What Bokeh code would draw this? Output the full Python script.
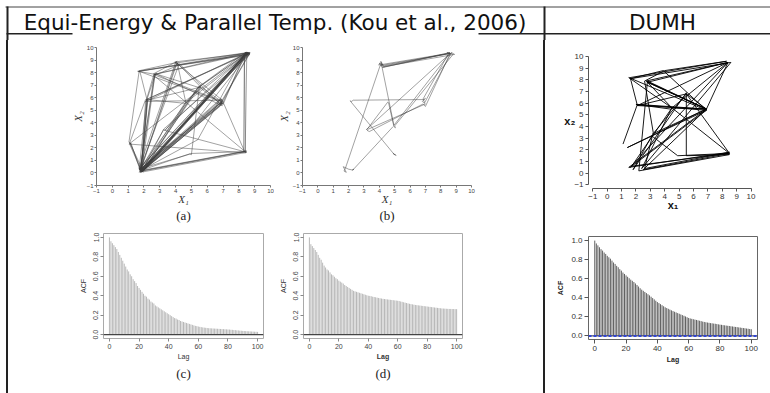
from bokeh.plotting import figure
from bokeh.layouts import row, column
from bokeh.models import Spacer, Range1d, FixedTicker, Span, Title, NumeralTickFormatter
from bokeh.embed import file_html
from bokeh.resources import INLINE
from bokeh.core.properties import value

# ---------------- data ----------------
header_left = "Equi-Energy & Parallel Temp. (Kou et al., 2006)"
header_right = "DUMH"
panel_labels = ["(a)", "(b)", "(c)", "(d)"]

grid_ticks = [-1, 0, 1, 2, 3, 4, 5, 6, 7, 8, 9, 10]
lag_ticks = [0, 20, 40, 60, 80, 100]
acf_ticks = [0.0, 0.2, 0.4, 0.6, 0.8, 1.0]

# (a) equi-energy sampler path (x1, x2)
xa = [1.85, 1.7, 1.95, 1.8, 8.5, 8.3, 8.7, 6.9, 6.85, 1.9, 1.75, 2.7, 2.6, 2.15, 2.25, 1.8, 2.0, 8.6, 8.4,
      5.5, 5.6, 4.6, 1.85, 1.7, 4.0, 4.2, 8.5, 8.7, 1.9, 1.8, 2.2, 2.1, 1.1, 1.2, 1.75, 1.9, 6.85, 6.95,
      8.45, 8.6, 1.65, 2.75, 2.6, 4.1, 3.95, 8.55, 8.35, 8.4, 8.5, 2.0, 1.8, 3.25, 3.35, 5.45, 8.5, 8.7,
      6.9, 6.8, 1.85, 1.7, 2.15, 2.7, 2.8, 8.4, 8.6, 1.9, 1.75, 1.15, 1.05, 1.7, 4.05, 4.3, 6.95, 8.35,
      8.45, 1.1, 1.8, 1.95, 8.5, 8.65, 4.6, 2.2, 2.1, 1.85, 1.75, 2.65, 8.55, 8.4, 1.9, 2.05, 6.9, 6.85,
      5.55, 4.15, 3.95, 8.6, 8.5, 1.8, 1.7, 4.9, 5.0, 5.5, 8.45, 1.85, 1.95, 5.0, 4.95, 8.6, 8.4, 5.4,
      1.8, 1.7, 8.5, 8.7, 1.6, 1.75, 2.2, 1.9, 1.8, 6.9, 7.0, 8.35, 8.3, 8.45, 1.85,
      2.7, 2.8, 2.6, 8.4, 1.9, 1.75, 5.5, 5.6, 2.2, 2.1, 6.9, 6.8, 4.2, 4.0, 1.8, 1.95, 8.45, 8.6, 8.4,
      8.7, 3.25, 1.85, 1.7, 1.95, 1.8, 6.9, 6.95, 2.75, 5.5, 1.9, 1.8, 8.55, 8.4, 8.6, 2.15, 8.6,
      1.75, 1.9, 1.1, 1.2, 1.05, 8.5, 8.4, 8.5, 2.0, 4.65, 4.1, 1.8, 1.85, 6.85, 1.7, 8.65, 8.5, 8.4,
      1.9, 5.45, 6.9, 6.85, 1.75, 4.2, 2.7, 6.95, 1.85, 1.95, 1.7, 8.5, 2.2, 1.8, 4.95, 8.35, 3.3,
      8.45, 1.9, 1.8, 6.9, 7.0, 1.85]
ya = [0.2, 0.35, 0.05, 0.45, 9.55, 9.45, 9.6, 5.7, 5.4, 0.15, 0.3, 7.9, 7.75, 5.8, 5.9, 0.1, 0.25, 9.5, 9.6,
      6.9, 6.8, 5.6, 0.2, 0.4, 8.8, 8.6, 9.45, 9.6, 0.3, 0.05, 5.75, 5.85, 2.4, 2.3, 0.25, 0.4, 5.9, 5.5,
      9.5, 9.4, 8.1, 7.85, 7.9, 8.9, 8.75, 9.6, 9.45, 1.7, 1.65, 0.1, 0.3, 3.45, 3.4, 6.85, 9.5, 9.55,
      5.6, 5.3, 0.15, 0.3, 5.7, 7.8, 7.9, 9.55, 9.6, 0.2, 0.45, 2.35, 2.45, 8.15, 8.8, 8.5, 5.8, 1.75,
      1.6, 2.3, 0.25, 0.1, 9.45, 9.55, 5.55, 5.85, 5.75, 0.35, 0.1, 7.85, 9.5, 9.4, 0.2, 0.3, 5.5, 5.75,
      6.9, 8.7, 8.85, 9.55, 9.65, 0.15, 0.3, 1.5, 1.45, 6.85, 9.5, 0.05, 0.25, 3.7, 3.6, 9.45, 9.55, 2.65,
      0.2, 0.35, 9.6, 9.5, 8.1, 8.05, 5.8, 0.1, 0.3, 5.65, 5.45, 9.45, 1.7, 1.75, 0.2,
      7.85, 7.95, 7.8, 1.7, 0.15, 0.35, 6.9, 6.85, 5.8, 5.7, 5.8, 5.5, 8.75, 8.6, 0.3, 0.2, 9.55, 9.5, 9.6,
      9.45, 3.5, 0.1, 0.25, 0.4, 0.05, 5.6, 5.35, 7.9, 6.8, 0.35, 0.05, 9.45, 9.6, 9.5, 5.85, 9.55,
      0.2, 0.3, 2.4, 2.35, 2.3, 9.5, 1.65, 1.75, 0.2, 5.6, 8.8, 0.25, 0.4, 5.7, 8.1, 9.6, 9.5, 9.4,
      0.1, 6.9, 5.45, 5.6, 0.3, 8.6, 7.8, 5.7, 0.15, 0.3, 0.05, 9.55, 5.75, 0.2, 1.55, 1.7, 3.4,
      9.5, 0.25, 0.1, 5.9, 5.6, 0.3]

# (b) parallel tempering path
xb = [5.0, 4.9, 5.1, 4.95, 2.1, 2.2, 2.3, 6.9, 7.0, 6.8, 7.0, 3.3, 3.2, 3.35, 6.85, 7.0, 8.6, 8.4, 8.8,
      5.0, 5.05, 4.95, 4.6, 4.55, 3.25, 3.15, 8.5, 8.7, 4.15, 4.0, 4.25, 4.1, 4.95, 8.6, 4.3, 4.1, 3.95,
      8.35, 8.6, 4.2, 4.4, 8.9, 8.7, 6.95, 6.85, 8.5, 4.05, 1.8, 1.7, 1.85, 1.65, 2.0, 2.2, 2.35, 2.25,
      4.9]
yb = [1.45, 1.55, 1.4, 1.5, 5.75, 5.7, 5.8, 5.85, 5.95, 5.7, 5.5, 3.5, 3.4, 3.3, 5.5, 5.3, 9.5, 9.6, 9.45,
      3.75, 3.6, 3.7, 5.6, 5.65, 3.55, 3.45, 9.4, 9.55, 8.5, 8.75, 8.6, 8.9, 3.8, 9.55, 8.45, 8.8, 8.6,
      9.5, 9.6, 8.4, 8.5, 9.45, 9.6, 5.6, 5.9, 9.5, 8.55, 0.4, 0.15, 0.05, 0.5, 0.3, 0.25, 0.3, 0.2,
      3.7]

# DUMH path
xd = [1.1, 2.1, 6.9, 2.7, 8.4, 1.6, 6.9, 1.5, 4.5, 8.5, 2.5, 6.9, 5.5, 2.1, 8.4, 2.8, 6.9, 1.4, 6.9, 3.9,
      1.6, 8.6, 2.4, 4.5, 6.9, 3.2, 5.5, 8.5, 4.9, 3.1, 1.8, 5.5, 5.5, 8.5, 2.2, 2.8, 6.9, 8.4, 4.4, 2.0,
      6.8, 1.5, 8.5, 2.6, 3.2, 2.6, 4.0, 8.3, 1.6, 2.1, 6.9, 2.8, 4.5, 1.7, 8.4]
yd = [2.5, 5.9, 5.5, 7.9, 9.5, 0.5, 5.4, 8.2, 5.6, 1.7, 0.3, 5.5, 6.8, 5.8, 9.5, 7.8, 5.5, 2.2, 5.4, 8.8,
      8.1, 9.5, 0.4, 5.6, 5.5, 3.4, 6.8, 1.7, 1.5, 3.2, 0.3, 6.9, 1.5, 1.6, 0.2, 7.9, 5.5, 9.5, 5.5, 5.9,
      5.4, 0.5, 1.8, 0.4, 3.5, 7.9, 8.8, 9.6, 8.2, 5.8, 5.5, 7.8, 5.6, 0.6, 1.7]

lags = list(range(101))
acf_c = [1.00, 0.96, 0.94, 0.92, 0.90, 0.88, 0.85, 0.82, 0.79, 0.76, 0.73,
         0.70, 0.67, 0.65, 0.62, 0.60, 0.57, 0.55, 0.53, 0.50, 0.48,
         0.46, 0.44, 0.42, 0.40, 0.39, 0.37, 0.36, 0.34, 0.33, 0.32,
         0.30, 0.29, 0.28, 0.27, 0.26, 0.25, 0.24, 0.23, 0.22, 0.21,
         0.20, 0.19, 0.18, 0.17, 0.165, 0.155, 0.15, 0.14, 0.135, 0.13,
         0.125, 0.12, 0.115, 0.11, 0.105, 0.10, 0.095, 0.09, 0.087, 0.083,
         0.08, 0.077, 0.074, 0.072, 0.07, 0.068, 0.066, 0.065, 0.064, 0.063,
         0.062, 0.061, 0.06, 0.059, 0.058, 0.057, 0.056, 0.055, 0.054, 0.053,
         0.052, 0.05, 0.049, 0.047, 0.046, 0.044, 0.043, 0.041, 0.04, 0.038,
         0.037, 0.036, 0.035, 0.034, 0.033, 0.032, 0.031, 0.03, 0.029, 0.028]
acf_d = [1.00, 0.93, 0.91, 0.89, 0.87, 0.85, 0.82, 0.79, 0.77, 0.74, 0.71,
         0.69, 0.67, 0.66, 0.64, 0.62, 0.61, 0.595, 0.58, 0.57, 0.555,
         0.545, 0.535, 0.525, 0.51, 0.50, 0.49, 0.48, 0.47, 0.46, 0.45,
         0.445, 0.44, 0.435, 0.43, 0.425, 0.42, 0.415, 0.41, 0.405, 0.40,
         0.398, 0.395, 0.39, 0.387, 0.384, 0.38, 0.377, 0.374, 0.371, 0.368,
         0.366, 0.364, 0.362, 0.36, 0.358, 0.356, 0.354, 0.352, 0.35, 0.348,
         0.345, 0.341, 0.337, 0.333, 0.329, 0.325, 0.321, 0.317, 0.314, 0.311,
         0.308, 0.305, 0.303, 0.301, 0.299, 0.297, 0.295, 0.293, 0.291, 0.289,
         0.287, 0.285, 0.283, 0.281, 0.279, 0.277, 0.275, 0.273, 0.271, 0.269,
         0.268, 0.267, 0.266, 0.265, 0.264, 0.264, 0.263, 0.263, 0.262, 0.262]
acf_dumh = [1.00, 0.97, 0.95, 0.93, 0.91, 0.895, 0.875, 0.86, 0.84, 0.825, 0.81,
            0.79, 0.77, 0.755, 0.735, 0.72, 0.70, 0.685, 0.665, 0.65, 0.635,
            0.62, 0.605, 0.59, 0.578, 0.565, 0.55, 0.534, 0.518, 0.50, 0.485,
            0.473, 0.461, 0.449, 0.437, 0.425, 0.411, 0.397, 0.383, 0.369, 0.355,
            0.344, 0.333, 0.322, 0.311, 0.30, 0.292, 0.284, 0.276, 0.268, 0.26,
            0.253, 0.246, 0.239, 0.232, 0.225, 0.218, 0.211, 0.204, 0.196, 0.188,
            0.183, 0.179, 0.175, 0.171, 0.167, 0.163, 0.159, 0.155, 0.150, 0.146,
            0.143, 0.140, 0.137, 0.134, 0.132, 0.129, 0.127, 0.124, 0.121, 0.118,
            0.116, 0.113, 0.111, 0.108, 0.106, 0.104, 0.101, 0.099, 0.096, 0.094,
            0.092, 0.089, 0.087, 0.084, 0.082, 0.080, 0.077, 0.075, 0.072, 0.070]
ci_level = 0.0

SANS = "Liberation Sans"
SERIF = "Liberation Serif"


def base(**kw):
    p = figure(output_backend="svg", toolbar_location=None, **kw)
    p.grid.visible = False
    return p


def trace_matlab(xs, ys, label, width, left, right):
    p = base(width=width, height=191, x_range=Range1d(-1, 10), y_range=Range1d(-1, 10),
             min_border_left=left, min_border_right=right, min_border_top=7, min_border_bottom=46)
    p.outline_line_color = None
    p.line(xs, ys, line_color="#3c3c3c", line_width=0.6, line_alpha=0.8)
    for ax in (p.xaxis[0], p.yaxis[0]):
        ax.ticker = FixedTicker(ticks=grid_ticks)
        ax.major_label_overrides = {-1: "\u22121"}
        ax.axis_line_color = "#777"
        ax.major_tick_line_color = "#777"
        ax.major_tick_out = 2
        ax.major_tick_in = 0
        ax.minor_tick_line_color = None
        ax.major_label_text_font = SANS
        ax.major_label_text_font_size = "6px"
        ax.major_label_text_color = "#444"
        ax.major_label_standoff = 1
        ax.axis_label_text_font = SERIF
        ax.axis_label_text_font_style = "italic"
        ax.axis_label_text_font_size = "11px"
        ax.axis_label_text_color = "#333"
        ax.axis_label_standoff = 0
    p.xaxis.axis_label_standoff = -3
    p.xaxis.axis_label = "X\u2081"
    p.yaxis.axis_label = "X\u2082"
    p.add_layout(Title(text=label, align="center", text_font=SERIF, text_font_size="13px",
                       text_font_style="normal", text_color="#222", standoff=-4), "below")
    return p


def acf_r(vals, label, width, left, right, bold_lag=False):
    p = base(width=width, height=162, x_range=Range1d(-4, 104), y_range=Range1d(-0.04, 1.04),
             min_border_left=left, min_border_right=right, min_border_top=2, min_border_bottom=55)
    p.outline_line_color = "#aaaaaa"
    p.segment(x0=lags, y0=[0] * len(lags), x1=lags, y1=vals, line_color="#b8b8b8", line_width=1)
    p.add_layout(Span(location=0, dimension="width", line_color="#444", line_width=1.2))
    p.xaxis.ticker = FixedTicker(ticks=lag_ticks)
    p.yaxis.ticker = FixedTicker(ticks=acf_ticks)
    p.yaxis.formatter = NumeralTickFormatter(format="0.0")
    p.yaxis.major_label_orientation = "vertical"
    for ax in (p.xaxis[0], p.yaxis[0]):
        ax.axis_line_color = None
        ax.major_tick_line_color = "#888"
        ax.major_tick_out = 3
        ax.major_tick_in = 0
        ax.minor_tick_line_color = None
        ax.major_label_text_font = SANS
        ax.major_label_text_font_size = "7px"
        ax.major_label_text_color = "#444"
        ax.major_label_standoff = 2
        ax.axis_label_text_font = SANS
        ax.axis_label_text_font_size = "7px"
        ax.axis_label_text_font_style = "normal"
        ax.axis_label_text_color = "#333"
        ax.axis_label_standoff = 4
    p.xaxis.axis_label_standoff = 1
    p.xaxis.axis_label = "Lag"
    p.yaxis.axis_label = "ACF"
    if bold_lag:
        p.xaxis.axis_label_text_font_style = "bold"
    p.add_layout(Title(text=label, align="center", text_font=SERIF, text_font_size="13px",
                       text_font_style="normal", text_color="#222", standoff=2), "below")
    return p


# ---------------- header ----------------
HH = 40
hdr = figure(width=770, height=HH, x_range=Range1d(0, 770), y_range=Range1d(HH, 0), min_border=0,
             x_axis_location=None, y_axis_location=None, output_backend="svg", toolbar_location=None)
hdr.grid.visible = False
hdr.outline_line_color = None
hdr.segment(x0=[5], y0=[6.5], x1=[770], y1=[6.5], line_color="#444", line_width=1)
hdr.segment(x0=[7, 544], y0=[6, 6], x1=[7, 544], y1=[HH, HH], line_color="#222", line_width=2)
hdr.segment(x0=[6, 478], y0=[33.3, 33.3], x1=[72, 770], y1=[33.3, 33.3], line_color="#222", line_width=1.5)
hdr.text(x=[274.5], y=[21.5], text=[header_left], text_font=value("DejaVu Sans"), text_font_size="21.5px",
         text_align="center", text_baseline="alphabetic", text_color="#111")
hdr.text(x=[662], y=[21.5], text=[header_right], text_font=value("DejaVu Sans"), text_font_size="21.5px",
         text_align="center", text_baseline="alphabetic", text_color="#111")

# ---------------- panels ----------------
pa = trace_matlab(xa, ya, panel_labels[0], 266, 88, 4)
pb = trace_matlab(xb, yb, panel_labels[1], 269, 23, 72)
pc = acf_r(acf_c, panel_labels[2], 266, 95, 11)
pd_ = acf_r(acf_d, panel_labels[3], 269, 29, 81, bold_lag=True)

# DUMH trace (R style, detached axes)
pe = base(width=225, height=190, x_range=Range1d(-1.3, 10.45), y_range=Range1d(-1.31, 10.35),
          min_border_left=43, min_border_right=13, min_border_top=12, min_border_bottom=42)
pe.outline_line_color = None
pe.line(xd, yd, line_color="black", line_width=0.9)
for ax in (pe.xaxis[0], pe.yaxis[0]):
    ax.ticker = FixedTicker(ticks=grid_ticks)
    ax.bounds = (-1, 10)
    ax.axis_line_color = "#555"
    ax.major_tick_line_color = "#555"
    ax.major_tick_out = 3
    ax.major_tick_in = 0
    ax.minor_tick_line_color = None
    ax.major_label_text_font = SANS
    ax.major_label_text_font_size = "8px"
    ax.major_label_text_color = "#333"
    ax.major_label_standoff = 2
    ax.axis_label_text_font = SANS
    ax.axis_label_text_font_size = "11px"
    ax.axis_label_text_font_style = "bold"
    ax.axis_label_text_color = "#111"
    ax.axis_label_standoff = -4
pe.xaxis.axis_label_standoff = -3
pe.xaxis.axis_label = "x\u2081"
pe.yaxis.axis_label = "x\u2082"
pe.yaxis.axis_label_orientation = "horizontal"

# DUMH ACF
pf = base(width=225, height=163, x_range=Range1d(-4, 104), y_range=Range1d(-0.038, 1.043),
          min_border_left=43, min_border_right=13, min_border_top=6, min_border_bottom=54)
pf.outline_line_color = "#666"
pf.segment(x0=lags, y0=[0] * len(lags), x1=lags, y1=acf_dumh, line_color="#606060", line_width=1)
pf.add_layout(Span(location=0, dimension="width", line_color="#333", line_width=1))
pf.add_layout(Span(location=ci_level, dimension="width", line_color="#3347d6", line_width=2, line_dash="3 2"))
pf.xaxis.ticker = FixedTicker(ticks=lag_ticks)
pf.yaxis.ticker = FixedTicker(ticks=acf_ticks)
pf.yaxis.formatter = NumeralTickFormatter(format="0.0")
for ax in (pf.xaxis[0], pf.yaxis[0]):
    ax.axis_line_color = None
    ax.major_tick_line_color = "#555"
    ax.major_tick_out = 4
    ax.major_tick_in = 0
    ax.minor_tick_line_color = None
    ax.major_label_text_font = SANS
    ax.major_label_text_font_size = "8px"
    ax.major_label_text_color = "#333"
    ax.major_label_standoff = 2
    ax.axis_label_text_font = SANS
    ax.axis_label_text_font_size = "7px"
    ax.axis_label_text_font_style = "bold"
    ax.axis_label_text_color = "#222"
    ax.axis_label_standoff = 4
pf.xaxis.axis_label_standoff = 2
pf.xaxis.axis_label = "Lag"
pf.yaxis.axis_label = "ACF"

# ---------------- layout ----------------
BH = 393 - HH


def vline(h):
    return Spacer(width=2, height=h, styles={"background-color": "#222"})


body = row(Spacer(width=6, height=BH), vline(BH),
           column(row(pa), row(pc)), column(row(pb), row(pd_)), vline(BH),
           column(row(pe), row(pf)))
layout = column(hdr, body)

open("out.html", "w").write(file_html(layout, INLINE))
